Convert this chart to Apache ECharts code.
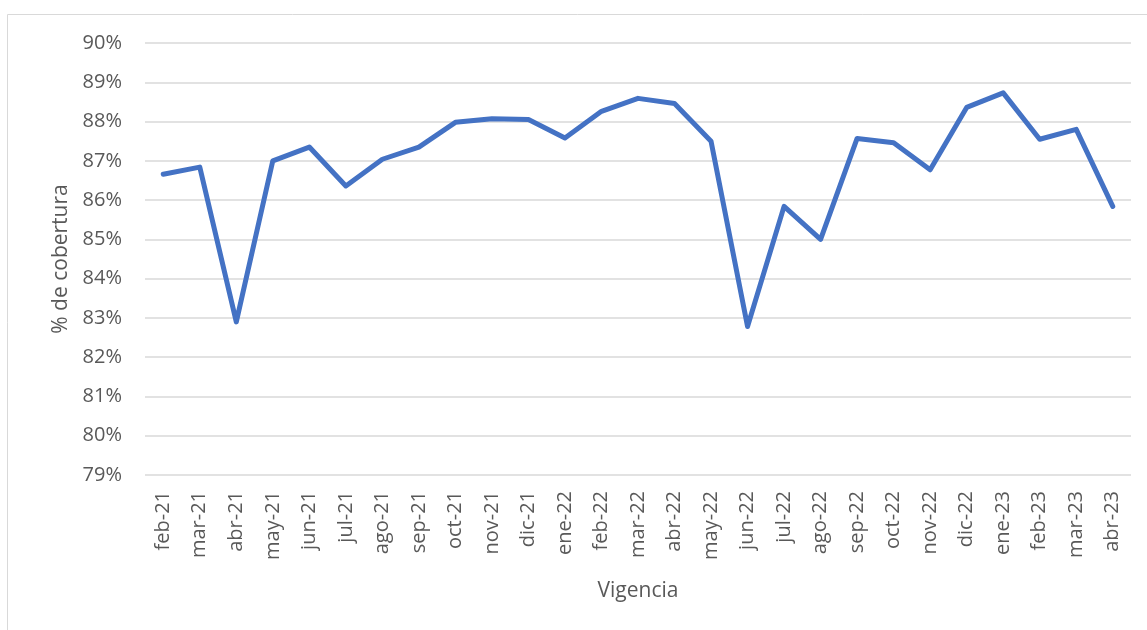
<!DOCTYPE html>
<html>
<head>
<meta charset="utf-8">
<script src="https://cdn.jsdelivr.net/npm/echarts@6/dist/echarts.min.js"></script>
<style>
  html, body { margin: 0; padding: 0; background: #fff; }
  #chart { width: 1147px; height: 630px; }
</style>
</head>
<body>
<div id="chart"></div>
<script>
// months shown on the category axis
const months = [
  'feb-21', 'mar-21', 'abr-21', 'may-21', 'jun-21', 'jul-21', 'ago-21', 'sep-21',
  'oct-21', 'nov-21', 'dic-21', 'ene-22', 'feb-22', 'mar-22', 'abr-22', 'may-22',
  'jun-22', 'jul-22', 'ago-22', 'sep-22', 'oct-22', 'nov-22', 'dic-22', 'ene-23',
  'feb-23', 'mar-23', 'abr-23'
];

// % de cobertura
const coverage = [
  86.66, 86.84, 82.90, 87.00, 87.35, 86.36, 87.04, 87.35,
  87.98, 88.07, 88.05, 87.58, 88.26, 88.59, 88.46, 87.50,
  82.78, 85.84, 85.00, 87.57, 87.46, 86.77, 88.36, 88.73,
  87.55, 87.80, 85.84
];

const font = 'Open Sans';
const textColor = '#595959';

const chart = echarts.init(document.getElementById('chart'));

chart.setOption({
  animation: false,
  textStyle: { fontFamily: font },
  grid: { left: 145, right: 16, top: 43, bottom: 155 },
  graphic: [{
    type: 'rect',
    shape: { x: 7.5, y: 14.5, width: 1145, height: 620 },
    style: { fill: 'none', stroke: '#d9d9d9', lineWidth: 1 }
  }],
  xAxis: {
    type: 'category',
    data: months,
    boundaryGap: true,
    axisLine: { show: false },
    axisTick: { show: false },
    axisLabel: {
      rotate: 90,
      interval: 0,
      margin: 16,
      color: textColor,
      fontSize: 20,
      fontFamily: font
    },
    name: 'Vigencia',
    nameLocation: 'middle',
    nameGap: 106,
    nameTextStyle: { color: textColor, fontSize: 21, fontFamily: font }
  },
  yAxis: {
    type: 'value',
    min: 79,
    max: 90,
    interval: 1,
    axisLine: { show: false },
    axisTick: { show: false },
    splitLine: { lineStyle: { color: '#d9d9d9', width: 1.5 } },
    axisLabel: {
      margin: 23,
      color: textColor,
      fontSize: 20,
      fontFamily: font,
      formatter: v => v + '%'
    },
    name: '% de cobertura',
    nameLocation: 'middle',
    nameRotate: 90,
    nameGap: 70,
    nameTextStyle: { color: textColor, fontSize: 21, fontFamily: font }
  },
  series: [{
    type: 'line',
    data: coverage,
    symbol: 'none',
    lineStyle: { color: '#4472c4', width: 5, cap: 'round', join: 'round' }
  }]
});
</script>
</body>
</html>
